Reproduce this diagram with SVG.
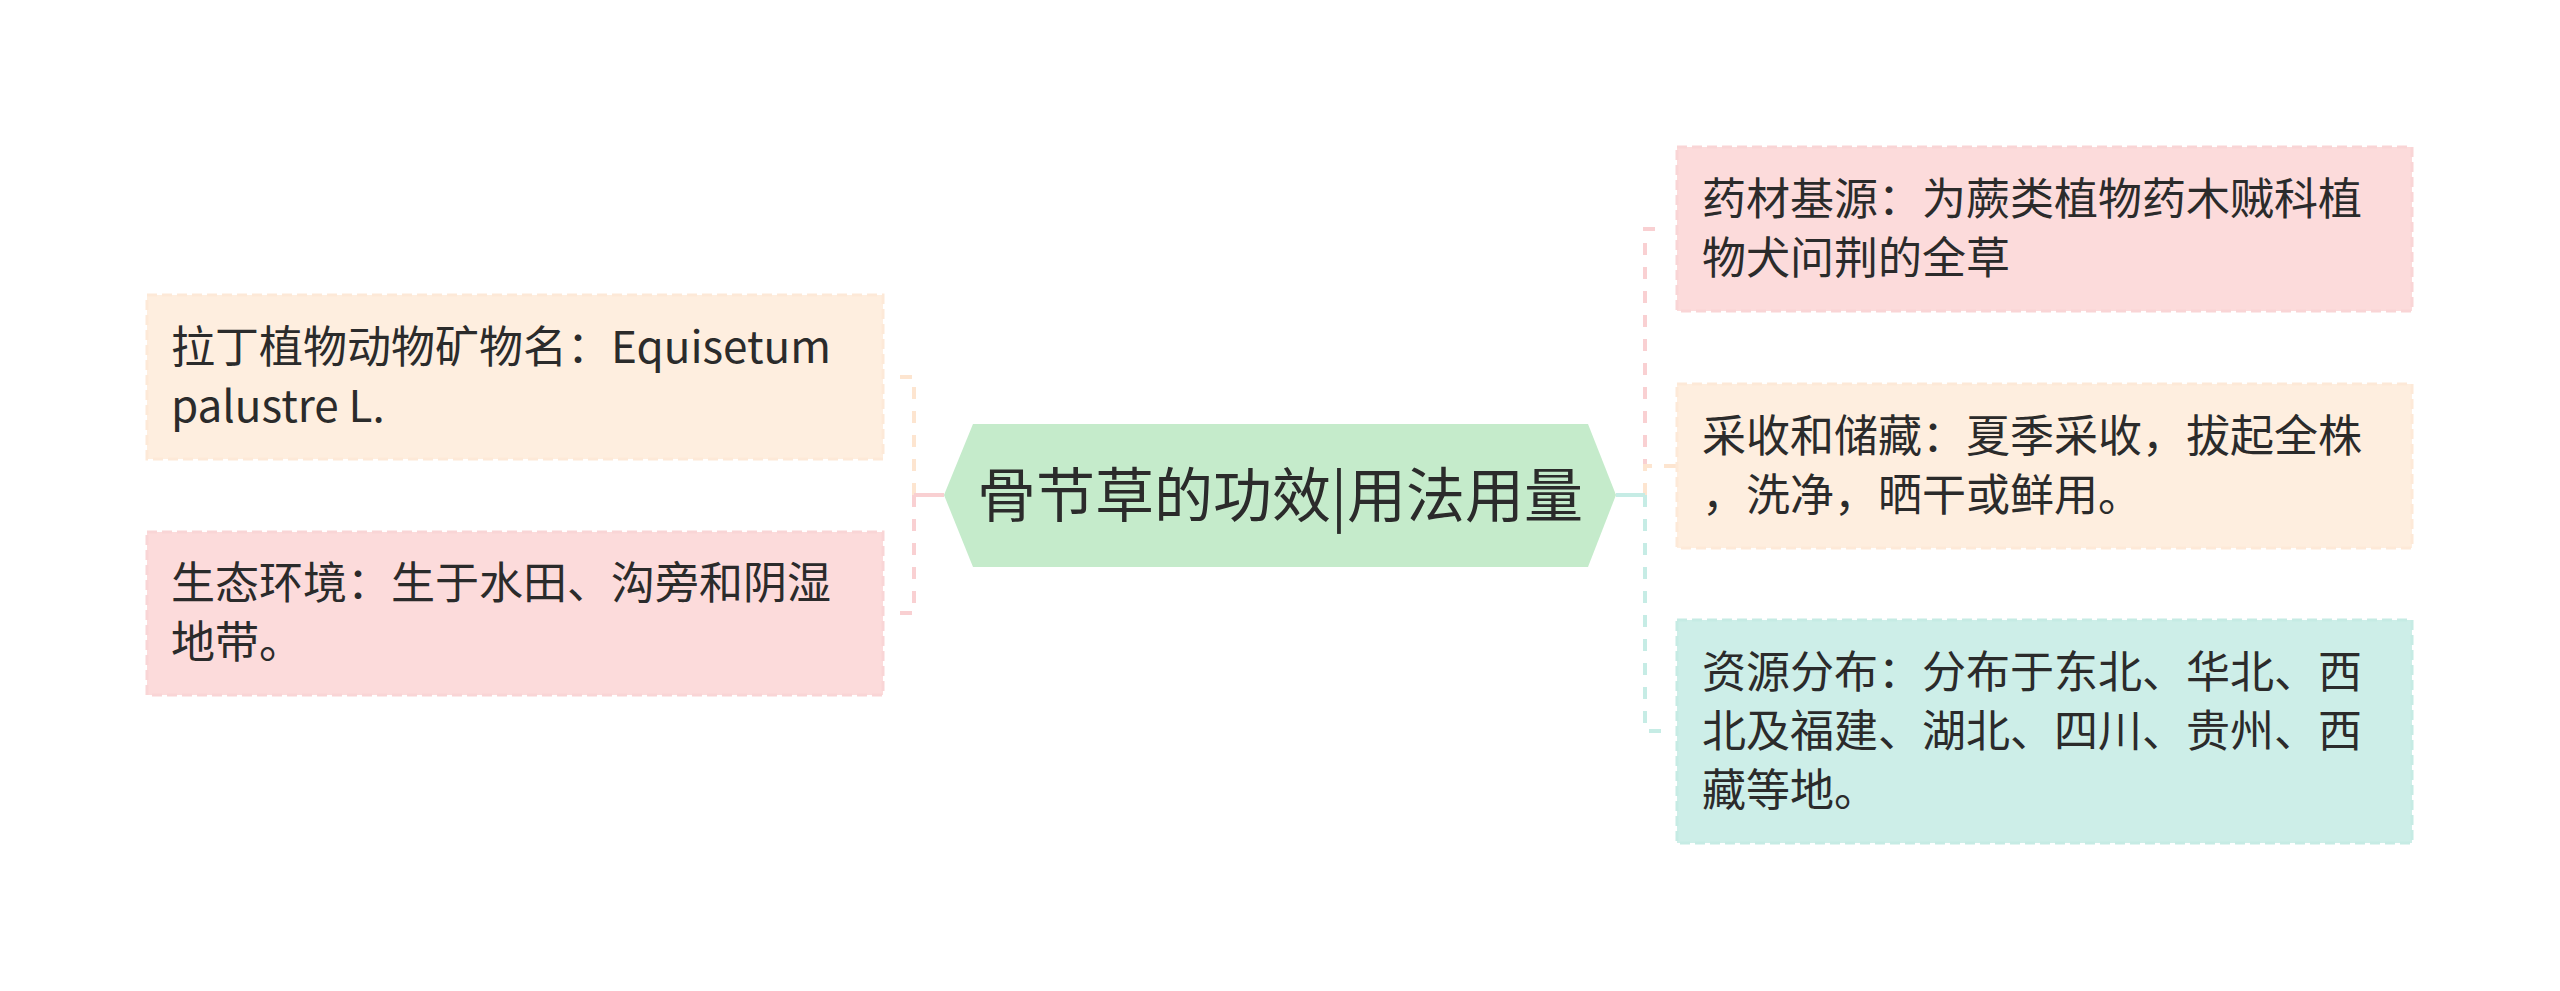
<svg xmlns="http://www.w3.org/2000/svg" width="2560" height="991" viewBox="0 0 2560 991">
<style>
.t{font-family:"Microsoft YaHei","Noto Sans CJK SC","Noto Sans",sans-serif;font-size:44px;fill:#2b2b2b}
.c{font-family:"Microsoft YaHei","Noto Sans CJK SC","Noto Sans",sans-serif;font-size:59px;fill:#2b2b2b}
.box{stroke-width:3;stroke-dasharray:10 5}
.pink{fill:#fcdbdb;stroke:#f9d5d6}
.peach{fill:#feeedf;stroke:#fde9d8}
.mint{fill:#cdeee8;stroke:#c6ebe4}
.ln{fill:none;stroke-width:4}
.dash{stroke-dasharray:12 12}
.lp{stroke:#f9d0d2}
.le{stroke:#fde5d0}
.lm{stroke:#c6ece5}
</style>
<rect width="2560" height="991" fill="#ffffff"/>
<g id="connectors">
<path class="ln dash le" d="M914 495 V377 H897"/>
<path class="ln dash lp" d="M914 495 V613 H897"/>
<path class="ln lp" d="M944 495 H914"/>
<path class="ln dash lp" d="M1645 495 V229 H1663"/>
<path class="ln dash le" d="M1645 495 V466 H1677"/>
<path class="ln dash lm" d="M1645 495 V731 H1667"/>
<path class="ln lm" d="M1616 495 H1645"/>
</g>
<g id="root">
<polygon points="944,495 973,424 1588,424 1616,495 1588,567 973,567" fill="#c5ebcb"/>
<text class="c" x="1280" y="517" text-anchor="middle">骨节草的功效|用法用量</text>
</g>
<g id="node-latin">
<rect class="box peach" x="147" y="295" width="736" height="164"/>
<text class="t" x="171" y="363">拉丁植物动物矿物名：Equisetum</text>
<text class="t" x="171" y="422">palustre L.</text>
</g>
<g id="node-habitat">
<rect class="box pink" x="147" y="532" width="736" height="163"/>
<text class="t" x="171" y="599">生态环境：生于水田、沟旁和阴湿</text>
<text class="t" x="171" y="658">地带。</text>
</g>
<g id="node-source">
<rect class="box pink" x="1677" y="147" width="735" height="164"/>
<text class="t" x="1702" y="215">药材基源：为蕨类植物药木贼科植</text>
<text class="t" x="1702" y="274">物犬问荆的全草</text>
</g>
<g id="node-harvest">
<rect class="box peach" x="1677" y="384" width="735" height="164"/>
<text class="t" x="1702" y="452">采收和储藏：夏季采收，拔起全株</text>
<text class="t" x="1702" y="511">，洗净，晒干或鲜用。</text>
</g>
<g id="node-distribution">
<rect class="box mint" x="1677" y="620" width="735" height="223"/>
<text class="t" x="1702" y="688">资源分布：分布于东北、华北、西</text>
<text class="t" x="1702" y="747">北及福建、湖北、四川、贵州、西</text>
<text class="t" x="1702" y="806">藏等地。</text>
</g>
</svg>
